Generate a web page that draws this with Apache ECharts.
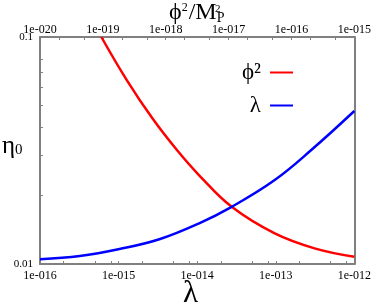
<!DOCTYPE html>
<html>
<head>
<meta charset="utf-8">
<script src="https://cdn.jsdelivr.net/npm/echarts@6/dist/echarts.min.js"></script>
<style>
html,body{margin:0;padding:0;background:#fff;}
#c{width:374px;height:305px;}
</style>
</head>
<body>
<div id="c"></div>
<script>
// lambda series (bottom axis)
var lambdaX = [1e-16, 3.21e-16, 1.03e-15, 3.30e-15, 1.06e-14, 2.75e-14, 9.70e-14, 2.83e-13, 1e-12];
var lambdaEta = [0.01049, 0.01084, 0.01164, 0.01285, 0.01511, 0.01786, 0.02344, 0.03177, 0.0472];
// phi^2 series (top axis phi^2/M_P^2)
var phiX = [9.46e-20, 2.40e-19, 6.21e-19, 1.53e-18, 3.40e-18, 1.12e-17, 5.42e-17, 2.33e-16, 1e-15];
var phiEta = [0.1, 0.0646, 0.0436, 0.0316, 0.0246, 0.01786, 0.01364, 0.01172, 0.01076];
var seriesNames = ['ϕ²', 'λ'];
var bottomTicks = [1e-16,2e-16,5e-16,8e-16,1e-15,2e-15,5e-15,8e-15,1e-14,2e-14,5e-14,8e-14,1e-13,2e-13,5e-13,8e-13,1e-12];
var topTicks = [1e-20,2e-20,5e-20,1e-19,2e-19,5e-19,1e-18,2e-18,5e-18,1e-17,2e-17,5e-17,1e-16,2e-16,5e-16,1e-15];
var yTicks = [0.01,0.02,0.03,0.04,0.05,0.06,0.07,0.08,0.1];

function pair(xs, ys){ return xs.map(function(x,i){return [x, ys[i]];}); }
function expLabel(v){
  var e = Math.round(Math.log10(v));
  var s = String(Math.abs(e)); while (s.length < 3) s = '0' + s;
  return '1e' + (e < 0 ? '-' : '+') + s;
}
var serif = '"Liberation Serif", "DejaVu Serif", serif';
var grey = '#808080';
var chart = echarts.init(document.getElementById('c'), null, {renderer:'canvas'});
var axisCommon = {
  type: 'log', logBase: 10,
  axisLine: {show: true, lineStyle: {color: grey, width: 2}},
  axisTick: {show: true, inside: true, length: 3, lineStyle: {color: grey, width: 1}},
  splitLine: {show: false},
  minorTick: {show: false},
  axisLabel: {color: '#000', fontFamily: serif, fontSize: 12, formatter: expLabel}
};
chart.setOption({
  animation: false,
  grid: {left: 40, right: 18, top: 37, bottom: 41, containLabel: false},
  xAxis: [
    echarts.util.merge({position: 'bottom', min: 1e-16, max: 1e-12,
      axisTick: {customValues: bottomTicks}, axisLabel: {margin: 6}}, axisCommon),
    echarts.util.merge({position: 'top', min: 1e-20, max: 1e-15,
      axisTick: {customValues: topTicks}, axisLabel: {margin: 1}}, axisCommon)
  ],
  yAxis: [
    {type: 'log', logBase: 10, min: 0.01, max: 0.1,
     axisLine: {show: true, lineStyle: {color: grey, width: 2}},
     axisTick: {show: true, inside: true, length: 3, customValues: yTicks, lineStyle: {color: grey}},
     splitLine: {show: false},
     axisLabel: {color: '#000', fontFamily: serif, fontSize: 11, margin: 7}},
    {type: 'log', logBase: 10, min: 0.01, max: 0.1, position: 'right',
     axisLine: {show: true, lineStyle: {color: grey, width: 2}},
     axisTick: {show: false}, axisLabel: {show: false}, splitLine: {show: false}}
  ],
  legend: {
    orient: 'vertical', left: 237, top: 56, align: 'right', itemGap: 10,
    icon: 'rect', itemWidth: 23, itemHeight: 2,
    textStyle: {fontFamily: serif, fontSize: 23, color: '#000', padding: [0, 4, 0, 0]},
    data: seriesNames
  },
  series: [
    {name: seriesNames[0], type: 'line', xAxisIndex: 1, yAxisIndex: 0, smooth: 0.4, showSymbol: false,
     lineStyle: {color: '#ff0000', width: 2.5}, itemStyle: {color: '#ff0000'}, data: pair(phiX, phiEta)},
    {name: seriesNames[1], type: 'line', xAxisIndex: 0, yAxisIndex: 0, smooth: 0.4, showSymbol: false,
     lineStyle: {color: '#0000ff', width: 2.5}, itemStyle: {color: '#0000ff'}, data: pair(lambdaX, lambdaEta)}
  ],
  graphic: [
    {type: 'text', left: 169, top: 1, style: {
      text: '{n|ϕ}{s|2}{n|/M}{b|P}', fontFamily: serif,
      rich: {n: {fontSize: 24, fontFamily: serif}, s: {fontSize: 12, fontFamily: serif, padding: [0,1,10,0]},
             b: {fontSize: 14, fontFamily: serif, padding: [10,0,0,0]}}}},
    {type: 'text', left: 215, top: 4, style: {text: '2', fontSize: 11, fontFamily: serif}},
    {type: 'text', left: 2, top: 134, style: {
      text: '{n|η}{b|0}', rich: {n: {fontSize: 25, fontFamily: serif}, b: {fontSize: 15, fontFamily: serif, padding: [8,0,0,0]}}}},
    {type: 'text', left: 183, top: 278, style: {text: 'λ', fontSize: 31, fontFamily: serif}}
  ]
});
</script>
</body>
</html>
